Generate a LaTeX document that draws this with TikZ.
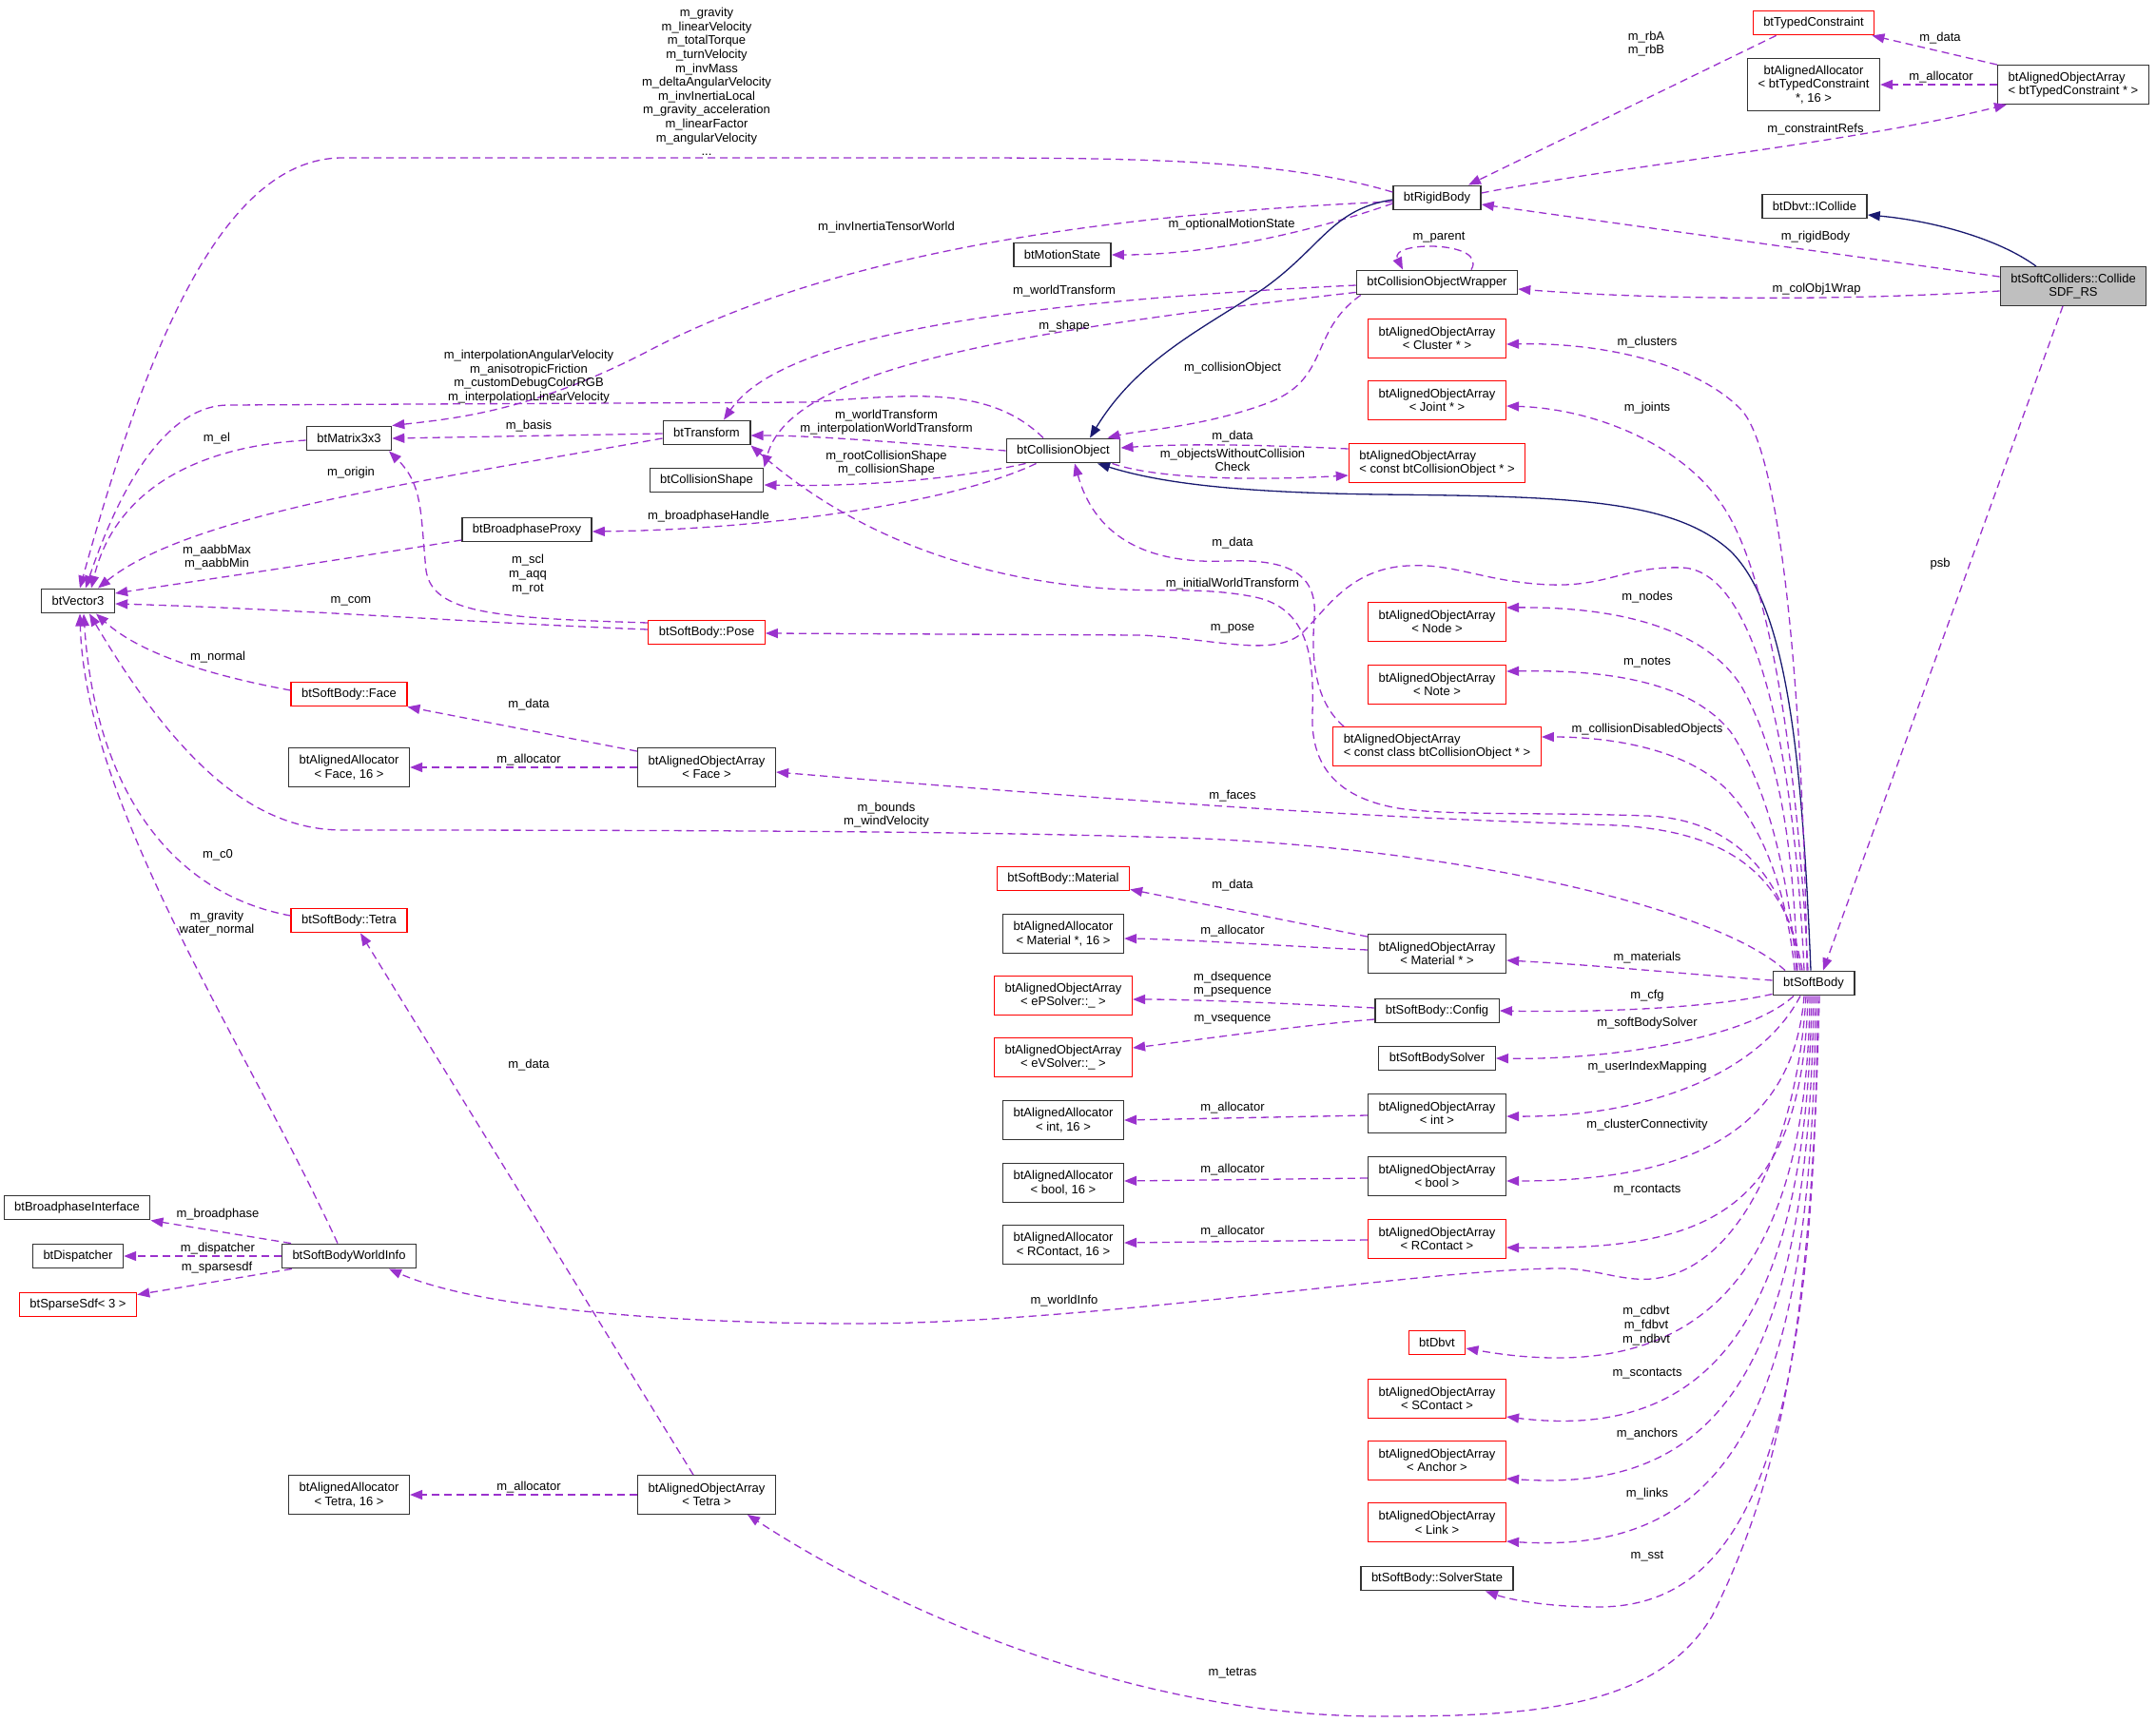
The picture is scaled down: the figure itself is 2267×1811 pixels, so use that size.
\documentclass[tikz,border=0pt]{standalone}
\usepackage{fontspec}
\setmainfont{Liberation Sans}
\usetikzlibrary{arrows.meta}
\definecolor{edgepurple}{HTML}{9A32CD}
\definecolor{inhnavy}{HTML}{191970}
\definecolor{boxgray}{HTML}{BFBFBF}
\definecolor{boxline}{HTML}{333333}

\begin{document}
\begin{tikzpicture}[x=1pt,y=-1pt,
  every node/.style={font=\fontsize{13}{14.6}\selectfont},
  cls/.style={draw=boxline,line width=1.4pt,fill=white,inner xsep=11pt,inner ysep=2pt,minimum height=25.5pt,align=center},
  trunc/.style={cls,draw=red,line width=1.3pt},
  dbl/.style={minimum height=40.5pt},
  trpl/.style={minimum height=55pt},
  mem/.style={draw=edgepurple,line width=1.3pt,dash pattern=on 8pt off 5pt,-{Triangle[length=13pt,width=10pt]}},
  inh/.style={draw=inhnavy,line width=1.3pt,-{Triangle[length=13pt,width=10pt]}},
  lbl/.style={inner sep=0pt,align=center}]
\useasboundingbox (0,0) rectangle (2267,1811);

% classes
\node[trunc] (tc) at (1907,24) {btTypedConstraint};
\node[cls,trpl] (alTC) at (1907,89) {btAlignedAllocator\\< btTypedConstraint\\*, 16 >};
\node[cls,dbl,align=left] (aoTC) at (2180,89) {btAlignedObjectArray\\< btTypedConstraint * >};
\node[cls] (rb) at (1511,208) {btRigidBody};
\node[cls] (ic) at (1908,217) {btDbvt::ICollide};
\node[cls,dbl,fill=boxgray] (sdf) at (2180,301) {btSoftColliders::Collide\\SDF\_RS};
\node[cls] (cow) at (1511,297) {btCollisionObjectWrapper};
\node[trunc,dbl] (aoCl) at (1511,356) {btAlignedObjectArray\\< Cluster * >};
\node[trunc,dbl] (aoJo) at (1511,421) {btAlignedObjectArray\\< Joint * >};
\node[trunc,dbl,align=left] (aoCO) at (1511,487) {btAlignedObjectArray\\< const btCollisionObject * >};
\node[cls] (co) at (1118,474) {btCollisionObject};
\node[cls] (ms) at (1117,268) {btMotionState};
\node[cls] (tr) at (743,455) {btTransform};
\node[cls] (cs) at (743,505) {btCollisionShape};
\node[cls] (m33) at (367,461) {btMatrix3x3};
\node[cls] (bp) at (554,557) {btBroadphaseProxy};
\node[cls] (v3) at (82,632) {btVector3};
\node[trunc] (pose) at (743,665) {btSoftBody::Pose};
\node[trunc] (face) at (367,730) {btSoftBody::Face};
\node[cls,dbl] (alFa) at (367,807) {btAlignedAllocator\\< Face, 16 >};
\node[cls,dbl] (aoFa) at (743,807) {btAlignedObjectArray\\< Face >};
\node[trunc] (tet) at (367,968) {btSoftBody::Tetra};
\node[trunc] (mat) at (1118,924) {btSoftBody::Material};
\node[cls,dbl] (alMa) at (1118,982) {btAlignedAllocator\\< Material *, 16 >};
\node[trunc,dbl] (aoPS) at (1118,1047) {btAlignedObjectArray\\< ePSolver::\_ >};
\node[trunc,dbl] (aoVS) at (1118,1112) {btAlignedObjectArray\\< eVSolver::\_ >};
\node[cls,dbl] (alIn) at (1118,1178) {btAlignedAllocator\\< int, 16 >};
\node[cls,dbl] (alBo) at (1118,1244) {btAlignedAllocator\\< bool, 16 >};
\node[cls,dbl] (alRC) at (1118,1309) {btAlignedAllocator\\< RContact, 16 >};
\node[cls,dbl] (aoMa) at (1511,1003) {btAlignedObjectArray\\< Material * >};
\node[cls] (cfg) at (1511,1063) {btSoftBody::Config};
\node[cls] (sbs) at (1511,1113) {btSoftBodySolver};
\node[cls,dbl] (aoIn) at (1511,1171) {btAlignedObjectArray\\< int >};
\node[cls,dbl] (aoBo) at (1511,1237) {btAlignedObjectArray\\< bool >};
\node[trunc,dbl] (aoRC) at (1511,1303) {btAlignedObjectArray\\< RContact >};
\node[trunc] (dbvt) at (1511,1412) {btDbvt};
\node[trunc,dbl] (aoSC) at (1511,1471) {btAlignedObjectArray\\< SContact >};
\node[trunc,dbl] (aoAn) at (1511,1536) {btAlignedObjectArray\\< Anchor >};
\node[trunc,dbl] (aoLi) at (1511,1601) {btAlignedObjectArray\\< Link >};
\node[cls] (sst) at (1511,1660) {btSoftBody::SolverState};
\node[cls] (sb) at (1907,1034) {btSoftBody};
\node[trunc,dbl] (aoNo) at (1511,654) {btAlignedObjectArray\\< Node >};
\node[trunc,dbl] (aoNt) at (1511,720) {btAlignedObjectArray\\< Note >};
\node[trunc,dbl,align=left] (aoCC) at (1511,785) {btAlignedObjectArray\\< const class btCollisionObject * >};
\node[cls] (bpi) at (81,1270) {btBroadphaseInterface};
\node[cls] (disp) at (82,1321) {btDispatcher};
\node[trunc] (ssdf) at (82,1372) {btSparseSdf< 3 >};
\node[cls] (wi) at (367,1321) {btSoftBodyWorldInfo};
\node[cls,dbl] (alTe) at (367,1572) {btAlignedAllocator\\< Tetra, 16 >};
\node[cls,dbl] (aoTe) at (743,1572) {btAlignedObjectArray\\< Tetra >};

% rigid body and constraints
\draw[mem] ([yshift=6pt]rb.west) .. controls (1350,168) and (1200,166) .. (1000,166) -- (360,166) .. controls (230,166) and (150,380) .. ([xshift=2pt]v3.north)
  node[lbl] at (743,86) {m\_gravity\\m\_linearVelocity\\m\_totalTorque\\m\_turnVelocity\\m\_invMass\\m\_deltaAngularVelocity\\m\_invInertiaLocal\\m\_gravity\_acceleration\\m\_linearFactor\\m\_angularVelocity\\...};
\draw[mem] ([yshift=-4pt]rb.west) .. controls (1100,228) and (850,280) .. (680,370) .. controls (560,432) and (480,440) .. (m33.north east)
  node[lbl] at (932,239) {m\_invInertiaTensorWorld};
\draw[mem] ([yshift=-6pt]rb.west) .. controls (1390,240) and (1280,268) .. (ms.east) node[lbl] at (1295,236) {m\_optionalMotionState};
\draw[mem] ([xshift=25pt]tc.south west) -- ([xshift=33pt]rb.north) node[lbl] at (1731,46) {m\_rbA\\m\_rbB};
\draw[mem] ([yshift=5pt]rb.east) .. controls (1700,175) and (1950,150) .. ([xshift=10pt]aoTC.south west) node[lbl] at (1909,136) {m\_constraintRefs};
\draw[mem] (aoTC.north west) -- ([xshift=-3pt]tc.south east) node[lbl] at (2040,40) {m\_data};
\draw[mem] (aoTC.west) -- (alTC.east) node[lbl] at (2041,81) {m\_allocator};
\draw[inh] ([yshift=-2pt]rb.west) .. controls (1400,220) and (1390,260) .. (1328,304) .. controls (1260,348) and (1195,380) .. ([xshift=28pt]co.north);

% collider
\draw[mem] ([yshift=10pt]sdf.west) -- ([yshift=-7pt]rb.east) node[lbl] at (1909,249) {m\_rigidBody};
\draw[mem] ([yshift=-5pt]sdf.west) .. controls (1950,316) and (1750,316) .. ([yshift=-7pt]cow.east) node[lbl] at (1910,304) {m\_colObj1Wrap};
\draw[inh] ([xshift=-39pt]sdf.north) .. controls (2100,250) and (2030,232) .. ([yshift=-9pt]ic.east);
\draw[mem] ([xshift=-11pt]sdf.south) -- ([xshift=10pt]sb.north) node[lbl] at (2040,593) {psb};

% wrapper
\draw[mem] ([xshift=36pt]cow.north) .. controls (1565,253) and (1460,253) .. ([xshift=-36pt]cow.north) node[lbl] at (1513,250) {m\_parent};
\draw[mem] ([yshift=-3pt]cow.west) .. controls (1050,318) and (820,355) .. ([xshift=18pt]tr.north) node[lbl] at (1119,306) {m\_worldTransform};
\draw[mem] ([yshift=3pt]cow.south west) .. controls (1050,350) and (830,390) .. (cs.north east) node[lbl] at (1119,343) {m\_shape};
\draw[mem] ([xshift=5pt]cow.south west) .. controls (1375,350) and (1400,400) .. (1330,425) .. controls (1260,450) and (1200,452) .. ([xshift=-14pt]co.north east)
  node[lbl] at (1296,387) {m\_collisionObject};

% collision object
\draw[mem] ([xshift=-21pt]co.north) .. controls (1040,405) and (960,415) .. (850,423) -- (240,426) .. controls (180,426) and (130,500) .. ([xshift=8pt]v3.north)
  node[lbl] at (556,396) {m\_interpolationAngularVelocity\\m\_anisotropicFriction\\m\_customDebugColorRGB\\m\_interpolationLinearVelocity};
\draw[mem] (co.west) .. controls (950,466) and (860,458) .. ([yshift=-3pt]tr.east) node[lbl] at (932,444) {m\_worldTransform\\m\_interpolationWorldTransform};
\draw[mem] ([xshift=21pt]co.south west) .. controls (1000,505) and (900,512) .. ([yshift=-5pt]cs.east) node[lbl] at (932,487) {m\_rootCollisionShape\\m\_collisionShape};
\draw[mem] ([xshift=32pt]co.south west) .. controls (1000,530) and (800,557) .. ([yshift=-2pt]bp.east) node[lbl] at (745,543) {m\_broadphaseHandle};
\draw[mem] ([yshift=15pt]aoCO.west) .. controls (1330,468) and (1250,466) .. ([yshift=3pt]co.east) node[lbl] at (1296,459) {m\_data};
\draw[mem] ([xshift=-9pt]co.south east) .. controls (1220,505) and (1330,505) .. ([yshift=-13pt]aoCO.west) node[lbl] at (1296,484) {m\_objectsWithoutCollision\\Check};

% transform, matrix, proxy
\draw[mem] ([yshift=-1pt]tr.west) -- (m33.east) node[lbl] at (556,448) {m\_basis};
\draw[mem] ([yshift=-6pt]tr.west) .. controls (450,505) and (200,540) .. ([xshift=21pt]v3.north) node[lbl] at (369,497) {m\_origin};
\draw[mem] ([yshift=-2pt]m33.west) .. controls (200,470) and (120,520) .. ([xshift=14pt]v3.north) node[lbl] at (228,461) {m\_el};
\draw[mem] ([yshift=-11pt]bp.west) .. controls (350,590) and (200,612) .. ([yshift=8pt]v3.east) node[lbl] at (228,586) {m\_aabbMax\\m\_aabbMin};

% pose, face, tetra
\draw[mem] ([yshift=3pt]pose.west) .. controls (500,655) and (300,640) .. ([yshift=-3pt]v3.east) node[lbl] at (369,632) {m\_com};
\draw[mem] ([yshift=10pt]pose.west) .. controls (520,650) and (455,645) .. (448,600) .. controls (442,540) and (445,510) .. ([xshift=42pt]m33.south)
  node[lbl] at (555,604) {m\_scl\\m\_aqq\\m\_rot};
\draw[mem] ([yshift=4pt]face.west) .. controls (230,712) and (150,690) .. ([xshift=19pt]v3.south) node[lbl] at (229,691) {m\_normal};
\draw[mem] ([yshift=-4pt]aoFa.north west) -- (face.south east) node[lbl] at (556,741) {m\_data};
\draw[mem] (aoFa.west) -- (alFa.east) node[lbl] at (556,799) {m\_allocator};
\draw[mem] ([yshift=5pt]tet.west) .. controls (180,940) and (100,830) .. ([xshift=6pt]v3.south) node[lbl] at (229,899) {m\_c0};
\draw[mem] ([xshift=-14pt]aoTe.north) -- ([xshift=12pt]tet.south) node[lbl] at (556,1120) {m\_data};
\draw[mem] (aoTe.west) -- (alTe.east) node[lbl] at (556,1564) {m\_allocator};

% world info
\draw[mem] ([xshift=-12pt]wi.north) .. controls (260,1100) and (90,850) .. ([xshift=2pt]v3.south) node[lbl] at (228,971) {m\_gravity\\water\_normal};
\draw[mem] ([xshift=-61pt]wi.north) -- (bpi.south east) node[lbl] at (229,1277) {m\_broadphase};
\draw[mem] (wi.west) -- (disp.east) node[lbl] at (229,1313) {m\_dispatcher};
\draw[mem] ([xshift=11pt]wi.south west) -- ([yshift=-3pt]ssdf.north east) node[lbl] at (228,1333) {m\_sparsesdf};

% arrays
\draw[mem] ([yshift=-3pt]aoMa.north west) -- ([yshift=2pt]mat.south east) node[lbl] at (1296,931) {m\_data};
\draw[mem] ([yshift=4pt]aoMa.west) .. controls (1350,995) and (1250,988) .. ([yshift=-5pt]alMa.east) node[lbl] at (1296,979) {m\_allocator};
\draw[mem] ([yshift=3pt]cfg.west) .. controls (1350,1055) and (1250,1051) .. ([yshift=-4pt]aoPS.east) node[lbl] at (1296,1035) {m\_dsequence\\m\_psequence};
\draw[mem] ([yshift=-9pt]cfg.west) .. controls (1350,1080) and (1250,1095) .. ([yshift=10pt]aoVS.east) node[lbl] at (1296,1072) {m\_vsequence};
\draw[mem] ([yshift=-2pt]aoIn.west) -- (alIn.east) node[lbl] at (1296,1165) {m\_allocator};
\draw[mem] ([yshift=-2pt]aoBo.west) -- ([yshift=2pt]alBo.east) node[lbl] at (1296,1230) {m\_allocator};
\draw[mem] ([yshift=-1pt]aoRC.west) -- ([yshift=2pt]alRC.east) node[lbl] at (1296,1295) {m\_allocator};

% soft body, upwards
\draw[inh] ([xshift=-3pt]sb.north) .. controls (1895,800) and (1880,640) .. (1820,580) .. controls (1760,525) and (1650,522) .. (1450,520) .. controls (1300,518) and (1220,508) .. ([xshift=36pt]co.south);
\draw[mem] ([xshift=-7pt]sb.north) .. controls (1895,700) and (1870,470) .. (1830,430) .. controls (1780,380) and (1680,360) .. ([yshift=-6pt]aoCl.east) node[lbl] at (1732,360) {m\_clusters};
\draw[mem] ([xshift=-6pt]sb.north) .. controls (1890,800) and (1860,600) .. (1810,530) .. controls (1770,470) and (1680,430) .. ([yshift=-6pt]aoJo.east) node[lbl] at (1732,429) {m\_joints};
\draw[mem] ([xshift=-17pt]sb.north) .. controls (1885,880) and (1870,790) .. (1830,720) .. controls (1790,660) and (1700,638) .. ([yshift=15pt]aoNo.east) node[lbl] at (1732,628) {m\_nodes};
\draw[mem] ([xshift=-18pt]sb.north) .. controls (1880,920) and (1860,830) .. (1820,770) .. controls (1780,720) and (1700,704) .. ([yshift=14pt]aoNt.east) node[lbl] at (1732,697) {m\_notes};
\draw[mem] ([xshift=-20pt]sb.north) .. controls (1880,950) and (1860,880) .. (1820,835) .. controls (1780,790) and (1700,775) .. ([yshift=10pt]aoCC.east) node[lbl] at (1732,767) {m\_collisionDisabledObjects};
\draw[mem] ([xshift=-10pt]sb.north) .. controls (1885,760) and (1840,600) .. (1769,597) .. controls (1710,595) and (1690,617) .. (1630,615) .. controls (1560,612) and (1530,592) .. (1480,595)
  .. controls (1420,598) and (1395,640) .. (1370,665) .. controls (1340,692) and (1280,672) .. (1200,668) -- ([yshift=-1pt]pose.east) node[lbl] at (1296,661) {m\_pose};
\draw[mem] ([xshift=-14pt]sb.north) .. controls (1880,930) and (1830,862) .. (1732,858) .. controls (1620,854) and (1520,858) .. (1470,850) .. controls (1400,838) and (1378,800) .. (1380,750)
  .. controls (1382,690) and (1375,640) .. (1320,628) .. controls (1270,618) and (1230,622) .. (1180,620) .. controls (1030,612) and (900,565) .. (tr.south east)
  node[lbl] at (1296,614) {m\_initialWorldTransform};
\draw[mem] ([xshift=12pt]aoCC.north west) .. controls (1385,740) and (1378,700) .. (1382,650) .. controls (1386,600) and (1350,588) .. (1290,590) .. controls (1200,594) and (1150,560) .. ([xshift=12pt]co.south)
  node[lbl] at (1296,571) {m\_data};
\draw[mem] ([xshift=-12pt]sb.north) .. controls (1880,930) and (1830,875) .. (1700,868) .. controls (1450,860) and (1250,848) .. ([yshift=-5pt]aoFa.east) node[lbl] at (1296,837) {m\_faces};
\draw[mem] ([xshift=-30pt]sb.north) .. controls (1800,950) and (1500,885) .. (1200,880) .. controls (1000,874) and (700,873) .. (360,873) .. controls (260,873) and (180,790) .. ([xshift=12pt]v3.south)
  node[lbl] at (932,857) {m\_bounds\\m\_windVelocity};

% soft body, sideways and down
\draw[mem] ([yshift=3pt]sb.west) .. controls (1780,1025) and (1680,1015) .. ([yshift=-7pt]aoMa.east) node[lbl] at (1732,1007) {m\_materials};
\draw[mem] ([yshift=2pt]sb.south west) .. controls (1800,1060) and (1680,1065) .. (cfg.east) node[lbl] at (1732,1047) {m\_cfg};
\draw[mem] ([xshift=-21pt]sb.south) .. controls (1840,1090) and (1700,1115) .. (sbs.east) node[lbl] at (1732,1076) {m\_softBodySolver};
\draw[mem] ([xshift=-14pt]sb.south) .. controls (1850,1130) and (1730,1175) .. ([yshift=-3pt]aoIn.east) node[lbl] at (1732,1122) {m\_userIndexMapping};
\draw[mem] ([xshift=-10pt]sb.south) .. controls (1885,1200) and (1760,1242) .. ([yshift=-5pt]aoBo.east) node[lbl] at (1732,1183) {m\_clusterConnectivity};
\draw[mem] ([xshift=-6pt]sb.south) .. controls (1895,1280) and (1790,1315) .. ([yshift=-9pt]aoRC.east) node[lbl] at (1732,1252) {m\_rcontacts};
\draw[mem] ([xshift=-8pt]sb.south) .. controls (1890,1200) and (1830,1330) .. (1744,1344) .. controls (1710,1350) and (1680,1334) .. (1640,1334) .. controls (1500,1334) and (1150,1392) .. (900,1392)
  .. controls (700,1392) and (500,1375) .. ([xshift=42pt]wi.south) node[lbl] at (1119,1368) {m\_worldInfo};
\draw[mem] ([xshift=-4pt]sb.south) .. controls (1900,1350) and (1780,1460) .. ([yshift=-6pt]dbvt.east) node[lbl] at (1731,1394) {m\_cdbvt\\m\_fdbvt\\m\_ndbvt};
\draw[mem] ([xshift=-2pt]sb.south) .. controls (1900,1400) and (1790,1515) .. ([yshift=-19pt]aoSC.east) node[lbl] at (1732,1445) {m\_scontacts};
\draw[mem] (sb.south) .. controls (1903,1450) and (1800,1570) .. ([yshift=-19pt]aoAn.east) node[lbl] at (1732,1508) {m\_anchors};
\draw[mem] ([xshift=2pt]sb.south) .. controls (1907,1500) and (1810,1635) .. ([yshift=-20pt]aoLi.east) node[lbl] at (1732,1571) {m\_links};
\draw[mem] ([xshift=4pt]sb.south) .. controls (1910,1560) and (1820,1690) .. (1680,1690) .. controls (1630,1690) and (1590,1683) .. ([xshift=51pt]sst.south) node[lbl] at (1732,1637) {m\_sst};
\draw[mem] ([xshift=6pt]sb.south) .. controls (1905,1400) and (1870,1560) .. (1800,1700) .. controls (1740,1800) and (1600,1805) .. (1450,1805) .. controls (1200,1805) and (950,1700) .. ([xshift=43pt]aoTe.south)
  node[lbl] at (1296,1760) {m\_tetras};
\end{tikzpicture}
\end{document}
